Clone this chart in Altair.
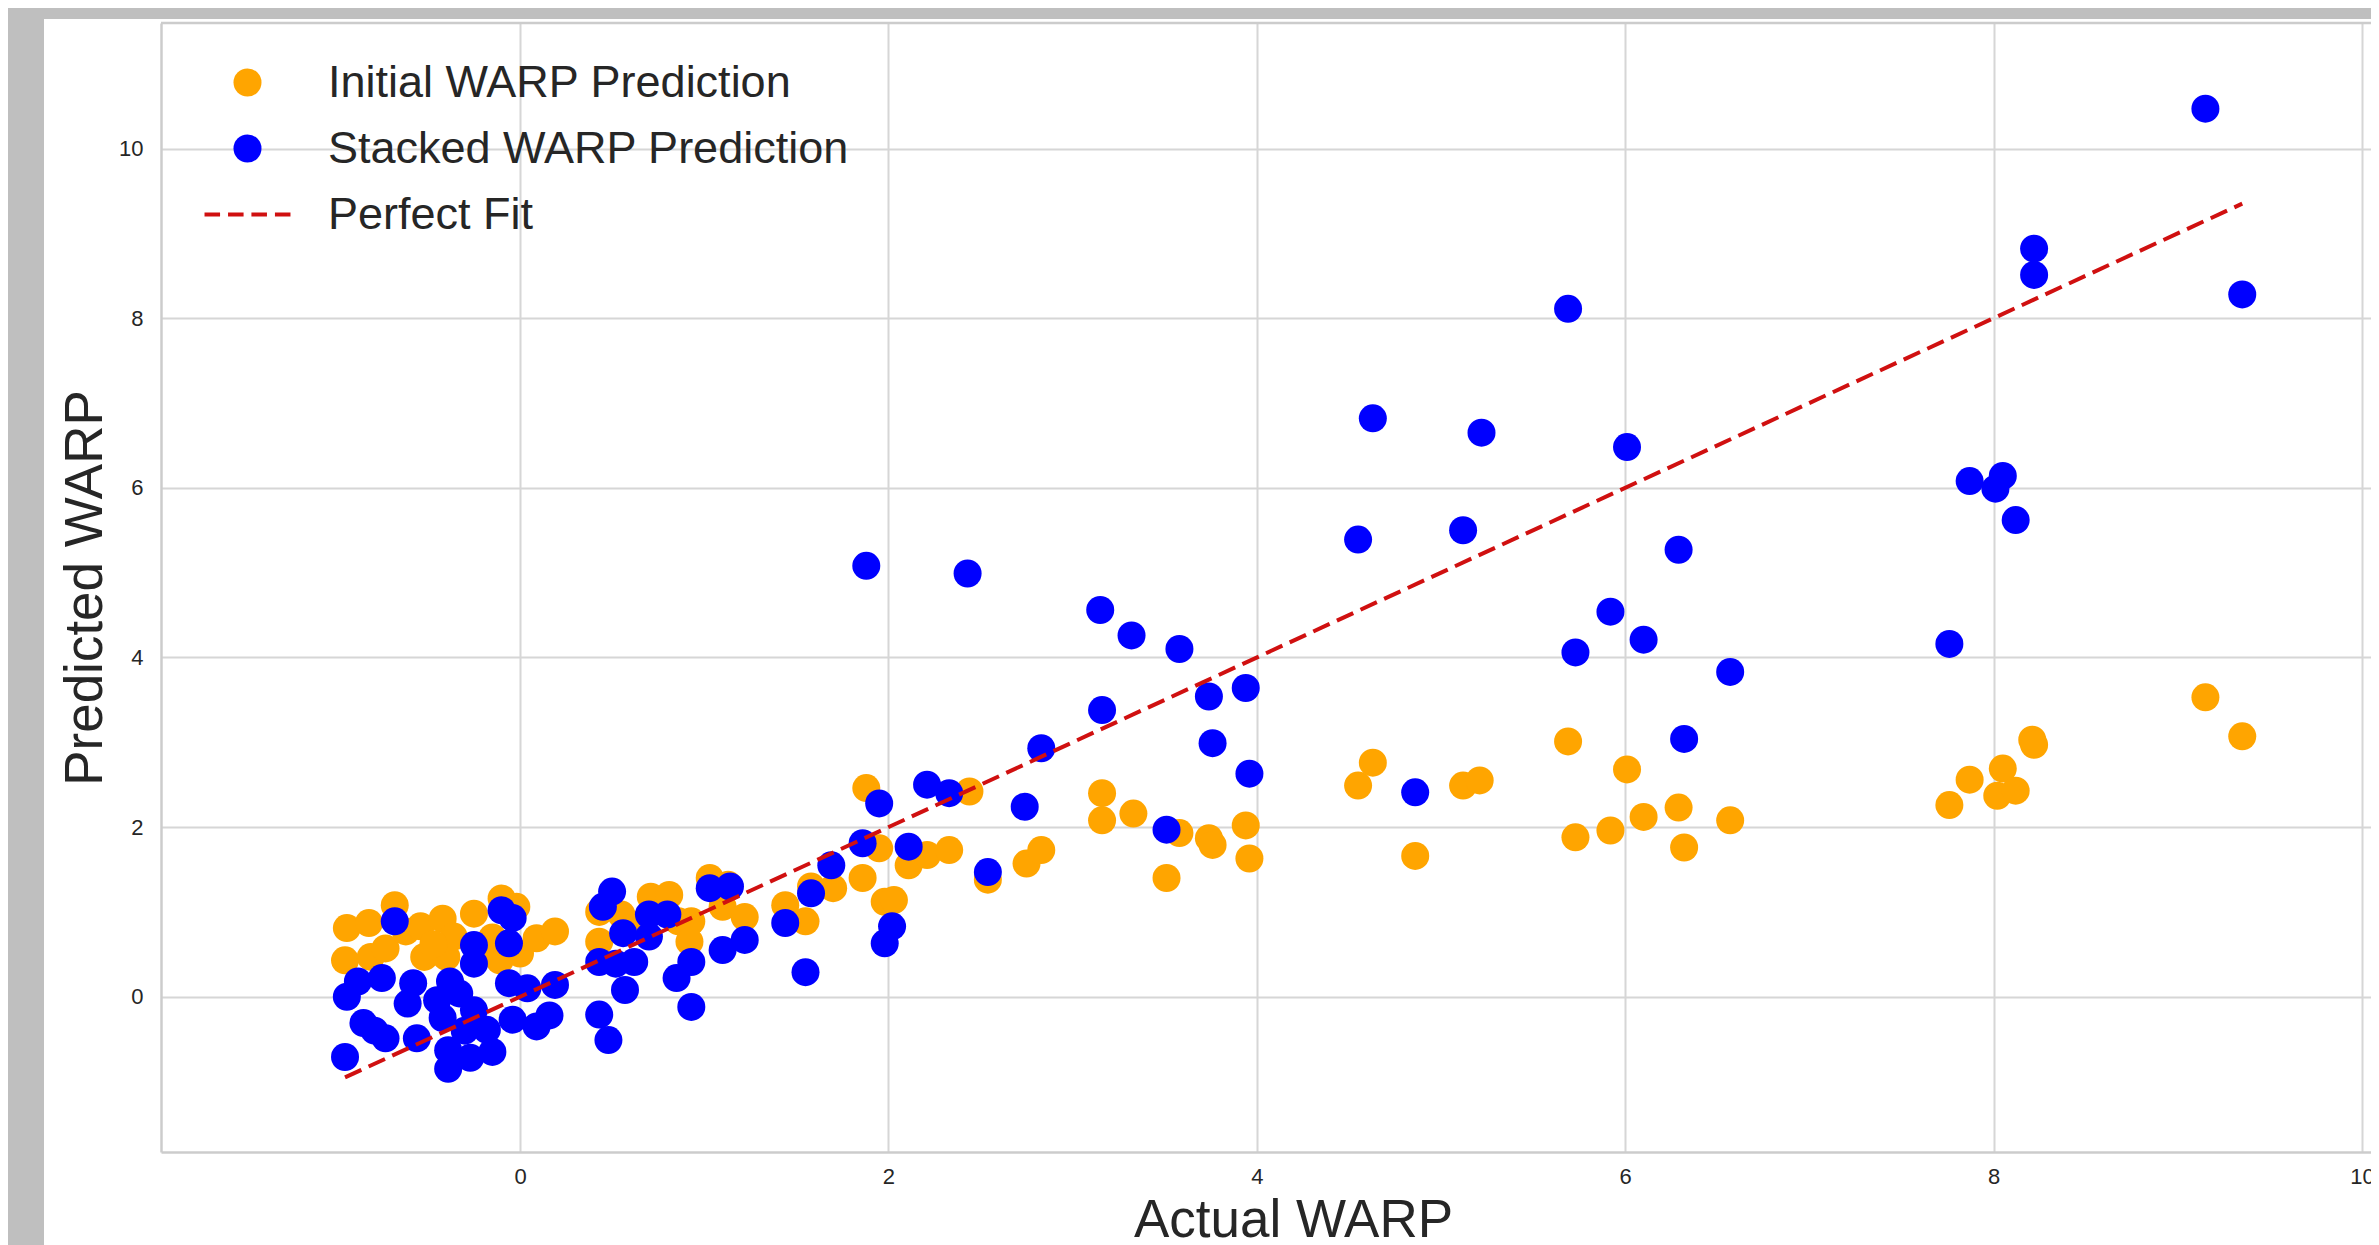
import altair as alt
import pandas as pd

# ---- data ----
series_names = ["Initial WARP Prediction", "Stacked WARP Prediction", "Perfect Fit"]
series_colors = ["#FFA500", "#0000FF", "#D01010"]

initial_x = [-0.68, -0.94, -0.82, -0.95, -0.81, -0.73, -0.62, -0.54, -0.52, -0.42,
             -0.40, -0.25, -0.36, -0.10, -0.02, -0.11, 0.00, 0.09, 0.19, -0.22,
             -0.47, -0.15,
             0.43, 0.43, 0.55, 0.58, 0.71, 0.81, 0.86, 0.93, 0.92, 1.03, 1.13, 1.10,
             1.22, 1.44, 1.55, 1.58,
             1.88, 2.44, 3.16, 3.16, 1.95, 1.86, 1.70, 2.11, 2.21, 2.33, 2.54, 2.75,
             2.83, 1.98, 2.03,
             3.33, 3.58, 3.74, 3.76, 3.94, 3.96, 3.51,
             4.55, 4.63, 4.86, 5.12, 5.21, 5.69, 5.73, 5.92, 6.01, 6.10, 6.29, 6.32,
             6.57, 7.76, 7.87, 8.02, 8.05, 8.12, 8.21, 8.22, 9.15, 9.35]
initial_y = [1.08, 0.81, 0.87, 0.43, 0.47, 0.57, 0.77, 0.83, 0.47, 0.92,
             0.47, 0.98, 0.71, 1.16, 1.06, 0.43, 0.51, 0.69, 0.77, 0.51,
             0.62, 0.70,
             1.00, 0.65, 0.97, 0.88, 1.18, 1.20, 0.89, 0.89, 0.65, 1.40, 1.32, 1.06,
             0.94, 1.08, 0.89, 1.30,
             2.46, 2.42, 2.40, 2.08, 1.75, 1.40, 1.28, 1.55, 1.67, 1.73, 1.38, 1.57,
             1.73, 1.12, 1.14,
             2.16, 1.93, 1.87, 1.79, 2.02, 1.63, 1.40,
             2.49, 2.76, 1.66, 2.49, 2.55, 3.01, 1.88, 1.96, 2.68, 2.12, 2.23, 1.76,
             2.08, 2.26, 2.56, 2.37, 2.69, 2.43, 3.03, 2.97, 3.53, 3.07]

stacked_x = [-0.68, -0.25, -0.25, -0.10, -0.04, -0.06, -0.94, -0.88, -0.75, -0.85,
             -0.79, -0.73, -0.95, -0.58, -0.61, -0.56, -0.38, -0.45, -0.33, -0.25,
             -0.39, -0.39, -0.27, -0.15, -0.18, -0.42, -0.30, -0.06, 0.04, -0.04,
             0.09, 0.16, 0.19,
             0.50, 0.45, 0.56, 0.43, 0.52, 0.62, 0.70, 0.70, 0.80, 0.57, 0.43, 0.48,
             0.93, 0.85, 0.93, 1.03, 1.14, 1.10, 1.22, 1.44, 1.58, 1.55, 1.69,
             3.16, 2.83, 2.21, 2.33, 1.95, 2.74, 1.86, 2.11, 2.54, 2.02, 1.98,
             1.88, 2.43, 3.15, 3.32, 3.58,
             3.74, 3.94, 3.76, 3.96, 3.51,
             4.55, 4.63, 4.86, 5.12, 5.22, 5.69, 5.73, 5.92, 6.01, 6.10, 6.29, 6.32,
             6.57, 7.76, 7.87, 8.01, 8.05, 8.12, 8.22, 8.22, 9.15, 9.35]
stacked_y = [0.89, 0.61, 0.39, 1.02, 0.93, 0.63, 0.00, 0.18, 0.22, -0.31,
             -0.40, -0.49, -0.71, 0.16, -0.08, -0.49, 0.18, -0.04, 0.04, -0.16,
             -0.63, -0.85, -0.72, -0.65, -0.39, -0.25, -0.40, 0.16, 0.10, -0.27,
             -0.35, -0.22, 0.14,
             1.24, 1.06, 0.75, 0.41, 0.39, 0.41, 0.97, 0.71, 0.97, 0.08, -0.21, -0.51,
             0.41, 0.22, -0.12, 1.28, 1.30, 0.55, 0.67, 0.87, 1.22, 0.29, 1.55,
             3.38, 2.93, 2.50, 2.40, 2.28, 2.24, 1.81, 1.77, 1.47, 0.83, 0.63,
             5.08, 4.99, 4.56, 4.26, 4.10,
             3.54, 3.64, 2.99, 2.63, 1.97,
             5.39, 6.82, 2.41, 5.50, 6.65, 8.11, 4.06, 4.54, 6.48, 4.21, 5.27, 3.04,
             3.83, 4.16, 6.08, 5.99, 6.14, 5.62, 8.82, 8.51, 10.47, 8.28]

fit_values = [-0.95, 9.35]
x_ticks = [0, 2, 4, 6, 8, 10]
y_ticks = [0, 2, 4, 6, 8, 10]

# ---- tables ----
pts = pd.DataFrame({
    "actual": initial_x + stacked_x,
    "pred": initial_y + stacked_y,
    "series": [series_names[0]] * len(initial_x) + [series_names[1]] * len(stacked_x),
})
fit = pd.DataFrame({"actual": fit_values, "pred": fit_values})
one = pd.DataFrame({"a": [0]})

W, H = 2210, 1129
FONT = "Liberation Sans"
TXT = "#262626"
SPINE = "#cccccc"

xscale = alt.Scale(domain=[-1.949, 10.049], nice=False, zero=False)
yscale = alt.Scale(domain=[-1.83, 11.48], nice=False, zero=False)

DASH_PATH = ("M-3.07,-0.14H-1.96V0.14H-3.07Z M-1.39,-0.14H-0.28V0.14H-1.39Z "
             "M0.28,-0.14H1.39V0.14H0.28Z M1.96,-0.14H3.07V0.14H1.96Z")

legend = alt.Legend(
    title=None, orient="none", legendX=64, legendY=37, padding=0,
    labelFont=FONT, labelFontSize=45, labelColor=TXT, labelOffset=58,
    labelLimit=1000, symbolSize=784, symbolStrokeWidth=0, rowPadding=20,
    symbolOpacity=1,
)

x_axis = alt.Axis(
    values=x_ticks, format="d", title="Actual WARP", titleFont=FONT, titleFontSize=53,
    titleFontWeight="normal", titleColor=TXT, titlePadding=7, titleX=1132,
    labelFont=FONT, labelFontSize=22, labelColor=TXT, labelPadding=14,
    ticks=False, tickSize=0, domainColor=SPINE, domainWidth=2.5,
    gridColor="#d6d6d6", gridWidth=2, labelFlush=False, labelOverlap=False,
)
y_axis = alt.Axis(
    values=y_ticks, format="d", title="Predicted WARP", titleFont=FONT, titleFontSize=53,
    titleFontWeight="normal", titleColor=TXT, titlePadding=6,
    labelFont=FONT, labelFontSize=22, labelColor=TXT, labelPadding=18,
    ticks=False, tickSize=0, domainColor=SPINE, domainWidth=2.5,
    gridColor="#d6d6d6", gridWidth=2, labelFlush=False, labelOverlap=False,
)

points = alt.Chart(pts).mark_point(filled=True, size=784, opacity=1, strokeWidth=0).encode(
    x=alt.X("actual:Q", scale=xscale, axis=x_axis),
    y=alt.Y("pred:Q", scale=yscale, axis=y_axis),
    color=alt.Color("series:N", sort=series_names,
                    scale=alt.Scale(domain=series_names, range=series_colors), legend=legend),
    shape=alt.Shape("series:N", sort=series_names,
                    scale=alt.Scale(domain=series_names, range=["circle", "circle", DASH_PATH]),
                    legend=legend),
)

fit_line = alt.Chart(fit).mark_line(color=series_colors[2], strokeWidth=4,
                                    strokeDash=[18, 8]).encode(
    x=alt.X("actual:Q", scale=xscale),
    y=alt.Y("pred:Q", scale=yscale),
)

gray_left = alt.Chart(one).mark_rect(color="#bfbfbf").encode(
    x=alt.value(-153), x2=alt.value(-117), y=alt.value(-15), y2=alt.value(H + 100))
gray_top = alt.Chart(one).mark_rect(color="#bfbfbf").encode(
    x=alt.value(-153), x2=alt.value(W), y=alt.value(-15), y2=alt.value(-4))
top_spine = alt.Chart(one).mark_rule(color=SPINE, strokeWidth=2.5).encode(
    x=alt.value(0), x2=alt.value(W), y=alt.value(0))

chart = alt.layer(gray_left, gray_top, top_spine, points, fit_line).properties(
    width=W, height=H,
    autosize=alt.AutoSizeParams(type="none"),
    padding={"left": 153, "top": 15, "right": 0, "bottom": 94},
    background="white",
).configure_view(strokeOpacity=0)

chart.save("out.html", embed_options={"renderer": "svg", "actions": False})
